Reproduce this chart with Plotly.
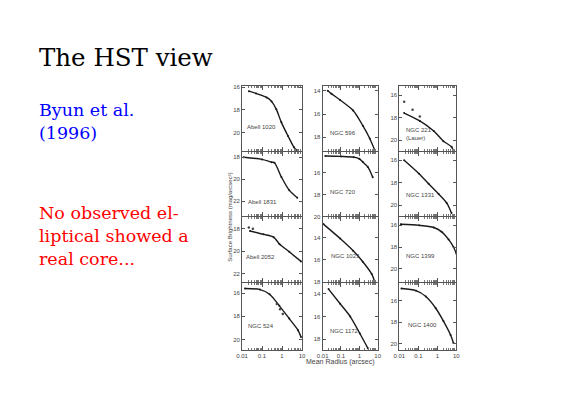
import plotly.graph_objects as go

# surface brightness profiles (r in arcsec, mu in mag/arcsec^2)
panel_names = ["Abell 1020", "NGC 596", "NGC 221<br>(Lauer)",
               "Abell 1831", "NGC 720", "NGC 1331",
               "Abell 2052", "NGC 1023", "NGC 1399",
               "NGC 524", "NGC 1172", "NGC 1400"]

a1020_r = [0.022, 0.05, 0.17, 0.3, 0.52, 0.93, 2.0, 4.0, 6.0]
a1020_mu = [16.35, 16.55, 16.9, 17.25, 17.95, 19.1, 20.3, 21.3, 21.6]
n596_r = [0.019, 0.03, 0.09, 0.46, 1.55, 3.7, 6.9]
n596_mu = [14.0, 14.25, 14.8, 15.7, 17.0, 18.1, 19.1]
n221_r = [0.018, 0.12, 0.65, 2.1, 5.6, 7.0]
n221_mu = [17.6, 18.3, 19.2, 20.1, 20.6, 21.0]
n221_dev_r = [0.018, 0.05, 0.12]
n221_dev_mu = [16.6, 17.3, 17.9]
a1831_r = [0.012, 0.1, 0.3, 0.42, 0.93, 2.3, 5.8]
a1831_mu = [18.0, 18.2, 18.45, 18.5, 19.8, 21.0, 21.7]
n720_r = [0.014, 0.1, 0.5, 1.0, 1.55, 2.9, 5.4]
n720_mu = [14.45, 14.48, 14.55, 14.7, 15.0, 15.45, 16.4]
n1331_r = [0.018, 0.11, 0.35, 1.17, 3.1, 5.6]
n1331_mu = [16.0, 17.2, 18.1, 19.0, 19.8, 20.7]
a2052_r = [0.025, 0.12, 0.38, 0.74, 2.3, 8.9]
a2052_mu = [18.2, 18.5, 18.75, 19.35, 20.05, 20.9]
a2052_dev_r = [0.022, 0.035]
a2052_dev_mu = [17.9, 18.0]
n1023_r = [0.011, 0.09, 0.46, 1.55, 4.7, 6.9]
n1023_mu = [12.8, 14.1, 15.2, 16.2, 17.3, 18.0]
n1399_r = [0.012, 0.11, 0.65, 1.7, 3.9, 7.1, 10.0]
n1399_mu = [15.9, 16.0, 16.2, 16.6, 17.3, 18.0, 18.6]
n524_r = [0.014, 0.08, 0.24, 0.74, 2.3, 6.3, 8.9]
n524_mu = [15.6, 15.7, 16.1, 17.1, 18.2, 19.2, 19.8]
n524_dev_r = [0.55, 0.8, 1.1]
n524_dev_mu = [16.95, 17.4, 17.8]
n1172_r = [0.021, 0.09, 0.32, 1.07, 2.9]
n1172_mu = [13.57, 14.87, 16.0, 17.5, 18.8]
n1400_r = [0.013, 0.076, 0.25, 0.83, 2.1, 5.0, 7.1]
n1400_mu = [14.85, 15.05, 15.6, 16.7, 17.9, 19.2, 19.95]

profiles_r = [a1020_r, n596_r, n221_r, a1831_r, n720_r, n1331_r,
              a2052_r, n1023_r, n1399_r, n524_r, n1172_r, n1400_r]
profiles_mu = [a1020_mu, n596_mu, n221_mu, a1831_mu, n720_mu, n1331_mu,
               a2052_mu, n1023_mu, n1399_mu, n524_mu, n1172_mu, n1400_mu]
deviations = {2: (n221_dev_r, n221_dev_mu), 6: (a2052_dev_r, a2052_dev_mu),
              9: (n524_dev_r, n524_dev_mu)}

# y ranges (top, bottom) and tick values per panel
y_ranges = [(15.9, 21.65), (13.6, 19.2), (15.2, 21.0),
            (17.55, 23.4), (14.1, 20.0), (15.3, 21.0),
            (17.0, 22.7), (12.2, 18.0), (15.27, 21.2),
            (15.1, 20.9), (13.0, 18.95), (14.3, 20.6)]
y_ticks = [[16, 18, 20], [14, 16, 18], [16, 18, 20],
           [18, 20, 22], [16, 18, 20], [16, 18, 20],
           [18, 20, 22], [14, 16, 18], [16, 18, 20],
           [16, 18, 20], [14, 16, 18], [16, 18, 20]]
label_pos = [(0.05, 0.30), (0.09, 0.21), (0.09, 0.12),
             (0.06, 0.15), (0.09, 0.30), (0.09, 0.25),
             (0.03, 0.30), (0.12, 0.32), (0.09, 0.32),
             (0.06, 0.28), (0.10, 0.20), (0.12, 0.30)]

x_tickvals = [0.01, 0.1, 1, 10]
x_ticktext = ["0.01", "0.1", "1", "10"]
x_minor = [m * d for d in (0.01, 0.1, 1) for m in range(2, 10)]

W, H = 585, 414
OFF = 8  # page body margin shifts the figure by this much


def fx(p):
    return (p - OFF) / W


def fy(p):
    return 1 - (p - OFF) / H


col_px = [(240, 301), (322, 378), (400, 458)]
row_px = [(85, 151), (152, 217), (218, 283), (284, 352)]

fig = go.Figure()
ax_color = "#555555"

for i in range(12):
    row, col = divmod(i, 3)
    n = i + 1
    xa = "x" if n == 1 else f"x{n}"
    ya = "y" if n == 1 else f"y{n}"
    fig.add_trace(go.Scatter(
        x=profiles_r[i], y=profiles_mu[i], xaxis=xa, yaxis=ya,
        mode="lines+markers",
        line=dict(color="#1a1a1a", width=1.4, shape="spline", smoothing=0.8),
        marker=dict(size=2, color="#1a1a1a"), showlegend=False,
    ))
    if i in deviations:
        dr, dm = deviations[i]
        fig.add_trace(go.Scatter(
            x=dr, y=dm, xaxis=xa, yaxis=ya, mode="markers",
            marker=dict(size=2.5, color="#444444"), showlegend=False,
        ))

    x0, x1 = col_px[col]
    y0, y1 = row_px[row]
    xkey = "xaxis" if n == 1 else f"xaxis{n}"
    ykey = "yaxis" if n == 1 else f"yaxis{n}"
    fig.layout[xkey] = dict(
        domain=[fx(x0), fx(x1)], anchor=ya, type="log", range=[-2, 1],
        tickvals=x_tickvals, ticktext=x_ticktext, showticklabels=(row == 3),
        ticks="inside", ticklen=4, tickcolor=ax_color, mirror="ticks",
        minor=dict(tickvals=x_minor, ticks="inside", ticklen=2, tickcolor="#777777"),
        showline=True, linecolor=ax_color, linewidth=1, showgrid=False,
        zeroline=False, tickfont=dict(size=6, color="#444444"),
    )
    fig.layout[ykey] = dict(
        domain=[fy(y1), fy(y0)], anchor=xa,
        range=[y_ranges[i][1], y_ranges[i][0]], tickvals=y_ticks[i],
        ticks="inside", ticklen=3, tickcolor=ax_color, mirror="ticks",
        showline=True, linecolor=ax_color, linewidth=1, showgrid=False,
        zeroline=False, tickfont=dict(size=6, color="#444444"),
    )
    lx, ly = label_pos[i]
    fig.add_annotation(
        text=panel_names[i], x=lx, y=ly, xref=f"{xa} domain", yref=f"{ya} domain",
        xanchor="left", yanchor="bottom", showarrow=False, align="left",
        font=dict(size=6, color="#444444"),
    )

# slide texts (annotation ink starts ~7px right of the anchor)
fig.add_annotation(text="The HST view", x=fx(31), y=fy(56), xref="paper", yref="paper",
                   xanchor="left", yanchor="middle", showarrow=False,
                   font=dict(family="DejaVu Serif", size=24.5, color="black"))
fig.add_annotation(text="Byun et al.<br>(1996)", x=fx(31), y=fy(121), xref="paper", yref="paper",
                   xanchor="left", yanchor="middle", showarrow=False, align="left",
                   font=dict(family="DejaVu Serif", size=17.5, color="#0000ff"))
fig.add_annotation(text="No observed el-<br>liptical showed a<br>real core...",
                   x=fx(31), y=fy(237), xref="paper", yref="paper",
                   xanchor="left", yanchor="middle", showarrow=False, align="left",
                   font=dict(family="DejaVu Serif", size=17.5, color="#ff0000"))

# shared axis titles
fig.add_annotation(text="Mean Radius (arcsec)", x=fx(340), y=fy(364), xref="paper", yref="paper",
                   xanchor="center", yanchor="middle", showarrow=False,
                   font=dict(size=7, color="#444444"))
fig.add_annotation(text="Surface Brightness (mag/arcsec²)", x=fx(228), y=fy(218),
                   xref="paper", yref="paper", textangle=-90,
                   xanchor="center", yanchor="middle", showarrow=False,
                   font=dict(size=6, color="#444444"))

fig.update_layout(
    width=W, height=H, margin=dict(l=0, r=0, t=0, b=0),
    paper_bgcolor="white", plot_bgcolor="white",
    font=dict(family="Liberation Sans"),
)

fig.write_html("out.html")
